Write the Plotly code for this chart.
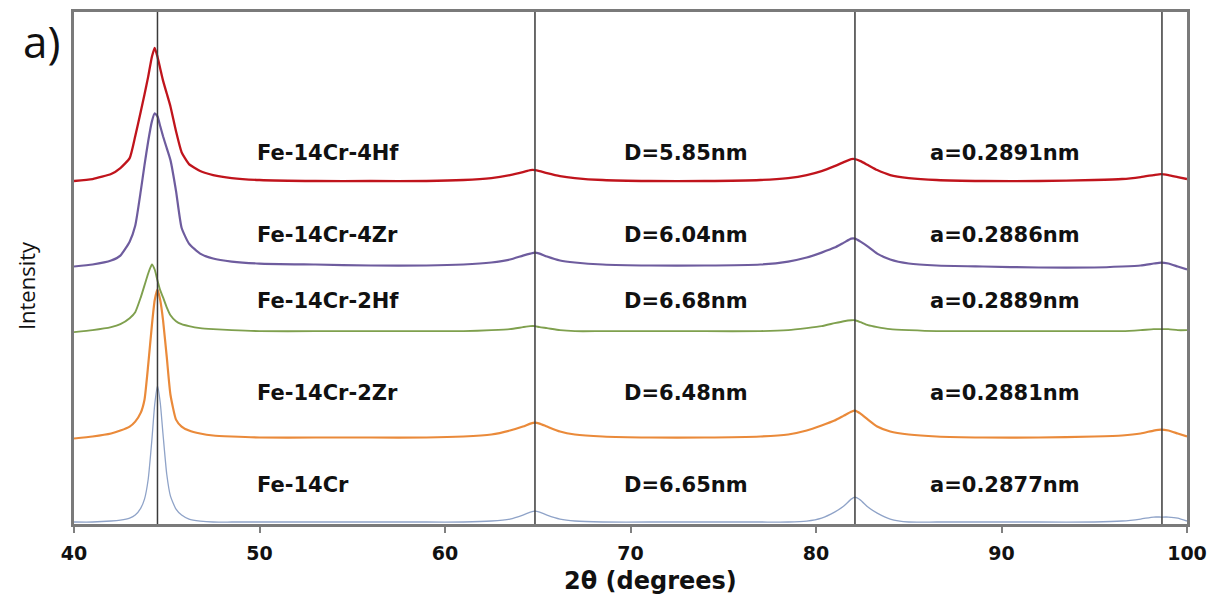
import plotly.graph_objects as go

# 2-theta sampling positions (degrees)
two_theta = [40, 41, 42, 42.5, 43, 43.3, 43.6, 43.8, 44.0, 44.2, 44.35, 44.5, 44.65, 44.8, 45.0, 45.2,
             45.5, 45.8, 46.2, 46.8, 47.5, 48.5, 50, 53, 56, 59, 61, 62.5, 63.5, 64.2, 64.6, 64.85,
             65.1, 65.5, 66.2, 67, 68.5, 71, 74, 77, 78.5, 79.5, 80.3, 81, 81.5, 81.9, 82.1, 82.4,
             82.8, 83.3, 84, 85, 86.5, 89, 92, 95, 96.5, 97.5, 98.2, 98.6, 99.0, 99.5, 100]

# intensities (arbitrary units, stacked with offsets as in the figure)
fe14cr_4hf = [345, 347, 352, 358, 368, 390, 415, 432, 450, 470, 479, 470, 458, 446, 433, 420,
              395, 374, 362, 355, 351, 348, 346, 345, 345, 345, 346, 348, 351, 354, 356, 356,
              355, 353, 350, 348, 346, 345, 345, 346, 348, 351, 355, 360, 364, 367, 367, 365,
              361, 356, 351, 348, 346, 345, 345, 346, 347, 349, 351, 352, 351, 349, 347]
fe14cr_4zr = [259, 261, 265, 270, 284, 300, 335, 361, 385, 405, 413, 410, 400, 390, 378, 366,
              335, 298, 282, 272, 267, 264, 262, 261, 260, 260, 261, 263, 266, 270, 272, 273,
              272, 269, 265, 263, 261, 260, 260, 261, 264, 268, 273, 278, 283, 287, 287, 284,
              279, 272, 266, 262, 260, 259, 258, 258, 259, 260, 262, 263, 262, 259, 256]
fe14cr_2hf = [193, 195, 198, 201, 207, 213, 228, 240, 252, 261, 256, 245, 235, 228, 218, 210,
              204, 201, 199, 197, 196, 195, 194, 194, 194, 194, 194, 195, 196, 198, 199, 199,
              198, 197, 195, 194, 194, 194, 194, 194, 195, 197, 199, 202, 204, 205, 205, 203,
              200, 198, 196, 195, 194, 194, 194, 194, 194, 195, 196, 196, 196, 195, 195]
fe14cr_2zr = [86, 88, 91, 94, 98, 103, 112, 125, 160, 200, 225, 236, 225, 205, 168, 130,
              105, 98, 94, 91, 89, 88, 87, 87, 87, 87, 88, 90, 94, 98, 101, 102,
              101, 98, 93, 90, 88, 87, 87, 88, 90, 94, 99, 104, 109, 113, 114, 111,
              105, 98, 93, 90, 88, 87, 87, 88, 89, 91, 94, 95, 94, 91, 88]
fe14cr = [2, 2, 3, 4, 6, 9, 16, 25, 45, 85, 120, 139, 122, 90, 50, 28,
          15, 9, 5, 3, 2, 2, 2, 2, 2, 2, 2, 3, 5, 9, 12, 13,
          12, 9, 5, 3, 2, 2, 2, 2, 2, 3, 6, 12, 18, 25, 27, 24,
          17, 11, 5, 2, 2, 2, 2, 2, 3, 5, 7, 7, 7, 6, 3]

series_names = ["Fe-14Cr-4Hf", "Fe-14Cr-4Zr", "Fe-14Cr-2Hf", "Fe-14Cr-2Zr", "Fe-14Cr"]
series_values = [fe14cr_4hf, fe14cr_4zr, fe14cr_2hf, fe14cr_2zr, fe14cr]
crystallite_sizes = ["D=5.85nm", "D=6.04nm", "D=6.68nm", "D=6.48nm", "D=6.65nm"]
lattice_params = ["a=0.2891nm", "a=0.2886nm", "a=0.2889nm", "a=0.2881nm", "a=0.2877nm"]
reference_peaks = [44.5, 64.85, 82.1, 98.65]
x_ticks = [40, 50, 60, 70, 80, 90, 100]

colors = ["#C0141C", "#6E5C9E", "#7FA04E", "#EA8A3A", "#8FA3C8"]
widths = [2.3, 2.2, 1.9, 2.2, 1.3]
label_rows = [373, 291, 224, 132, 39]

fig = go.Figure()
for name, vals, c, w in zip(series_names, series_values, colors, widths):
    fig.add_trace(go.Scatter(x=two_theta, y=vals, mode="lines", name=name,
                             line=dict(color=c, width=w, shape="spline", smoothing=0.5),
                             showlegend=False))

for xp in reference_peaks:
    fig.add_shape(type="line", x0=xp, x1=xp, xref="x", y0=0, y1=1, yref="paper",
                  line=dict(color="#3a3a3a", width=1.5), layer="above")

lab_font = dict(family="DejaVu Sans", size=21, color="#111111", weight="bold")
for nm, d, a, yy in zip(series_names, crystallite_sizes, lattice_params, label_rows):
    fig.add_annotation(x=49.76, y=yy, text=nm, showarrow=False, xanchor="left", font=lab_font)
    fig.add_annotation(x=69.54, y=yy, text=d, showarrow=False, xanchor="left", font=lab_font)
    fig.add_annotation(x=86.05, y=yy, text=a, showarrow=False, xanchor="left", font=lab_font)

fig.add_annotation(xref="paper", yref="paper", x=0.518, y=-0.111, xanchor="center", yanchor="middle",
                   text="2θ (degrees)", showarrow=False,
                   font=dict(family="DejaVu Sans", size=24, color="#111111", weight="bold"))
fig.add_annotation(xref="paper", yref="paper", x=-0.0425, y=0.466, xanchor="center", yanchor="middle",
                   textangle=-90, text="Intensity", showarrow=False,
                   font=dict(family="Open Sans", size=22, color="#111111"))
fig.add_annotation(xref="paper", yref="paper", x=-0.0296, y=0.944, xanchor="center", yanchor="middle",
                   text="a)", showarrow=False,
                   font=dict(family="Open Sans", size=44, color="#111111"))

fig.update_xaxes(range=[40, 100], tickvals=x_ticks, ticks="outside", ticklen=6, tickcolor="#808080",
                 tickwidth=1.5, showline=True, linecolor="#7a7a7a", linewidth=2.5, mirror=True,
                 showgrid=False, zeroline=False, ticklabelstandoff=4,
                 tickfont=dict(family="DejaVu Sans", size=19, color="#111111", weight="bold"))
fig.update_yaxes(range=[0, 515], showticklabels=False, ticks="", showline=True, linecolor="#7a7a7a",
                 linewidth=2.5, mirror=True, showgrid=False, zeroline=False)

fig.update_layout(width=1211, height=594, margin=dict(l=66, r=32, t=1, b=78),
                  paper_bgcolor="white", plot_bgcolor="white")

fig.write_html("out.html")
